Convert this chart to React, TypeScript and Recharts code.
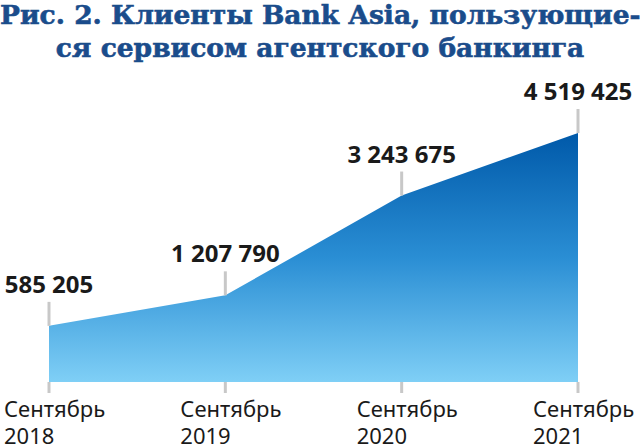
import React from "react";
import { AreaChart, Area, XAxis, YAxis, LabelList } from "recharts";

const months = ["Сентябрь", "Сентябрь", "Сентябрь", "Сентябрь"];
const years = ["2018", "2019", "2020", "2021"];
const clients = [585205, 1207790, 3243675, 4519425];
const axisFloor = -560000;

const data = years.map((year, i) => ({
  period: `${months[i]} ${year}`,
  clients: clients[i],
}));

const fmt = (v: number) => v.toString().replace(/\B(?=(\d{3})+(?!\d))/g, " ");

const ValueLabel = (props: any) => {
  const { x, y, value } = props;
  return (
    <g>
      <line x1={x} x2={x} y1={y} y2={y - 24} stroke="#c8c8c8" strokeWidth={3} />
      <text
        x={x}
        y={y - 33}
        textAnchor="middle"
        fontFamily="'Noto Sans', sans-serif"
        fontWeight={700}
        fontSize={24}
        fill="#1a1a1a"
      >
        {fmt(value)}
      </text>
    </g>
  );
};

const PeriodTick = (props: any) => {
  const { x, y, index } = props;
  return (
    <g>
      <text x={x - 45} y={y + 22} textAnchor="start" fontFamily="'Noto Sans', sans-serif" fontSize={22} fill="#1a1a1a">
        {months[index]}
      </text>
      <text x={x - 45} y={y + 49} textAnchor="start" fontFamily="'Noto Sans', sans-serif" fontSize={22} fill="#1a1a1a">
        {years[index]}
      </text>
    </g>
  );
};

export default function App() {
  return (
    <div style={{ position: "absolute", left: 0, top: 0, width: 640, height: 444, background: "#fff", overflow: "hidden" }}>
      <div
        style={{
          position: "absolute",
          left: 0,
          top: -2,
          width: 640,
          textAlign: "center",
          fontFamily: "'DejaVu Serif', serif",
          fontWeight: 700,
          fontSize: 26.5,
          lineHeight: "33px",
          color: "#1a4c8b",
          WebkitTextStroke: "0.6px #1a4c8b",
          whiteSpace: "nowrap",
        }}
      >
        Рис. 2. Клиенты Bank Asia, пользующие-
        <br />
        ся сервисом агентского банкинга
      </div>
      <AreaChart width={640} height={444} data={data} margin={{ top: 133, right: 62, bottom: 0, left: 49 }}>
        <defs>
          <linearGradient id="fillBlue" x1="0" y1="0" x2="0" y2="1">
            <stop offset="0%" stopColor="#0059a9" />
            <stop offset="50%" stopColor="#2a8ed4" />
            <stop offset="100%" stopColor="#7fcff6" />
          </linearGradient>
        </defs>
        <XAxis
          dataKey="period"
          height={62}
          axisLine={false}
          tickLine={{ stroke: "#c8c8c8", strokeWidth: 3 }}
          tickSize={11}
          tick={<PeriodTick />}
          interval={0}
        />
        <YAxis hide domain={[axisFloor, Math.max(...clients)]} />
        <Area
          type="linear"
          dataKey="clients"
          stroke="none"
          fill="url(#fillBlue)"
          fillOpacity={1}
          baseValue="dataMin"
          isAnimationActive={false}
          dot={false}
          activeDot={false}
        >
          <LabelList dataKey="clients" content={<ValueLabel />} />
        </Area>
      </AreaChart>
    </div>
  );
}
